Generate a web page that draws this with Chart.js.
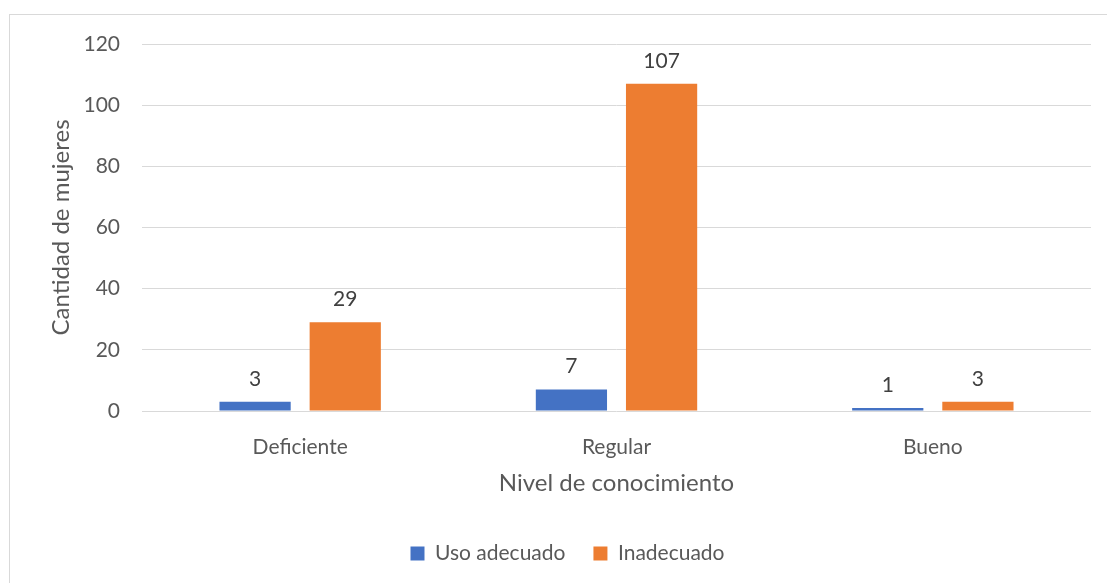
<!DOCTYPE html>
<html>
<head>
<meta charset="utf-8">
<script src="https://cdn.jsdelivr.net/npm/chart.js@4/dist/chart.umd.min.js"></script>
<style>
  html, body { margin: 0; padding: 0; background: #fff; }
  #wrap { width: 1107px; height: 583px; position: relative; }
</style>
</head>
<body>
<div id="wrap"><canvas id="chart"></canvas></div>
<script>
// chart data
const categories = ['Deficiente', 'Regular', 'Bueno'];
const usoAdecuado = [3, 7, 1];
const inadecuado = [29, 107, 3];
const yTicks = [0, 20, 40, 60, 80, 100, 120];

const FONT = 'Lato, "Open Sans", sans-serif';
const TEXT = '#595959';

// frame around the chart, like the office chart border
const framePlugin = {
    id: 'frame',
    beforeDraw(chart) {
        const ctx = chart.ctx;
        ctx.save();
        ctx.fillStyle = '#fff';
        ctx.fillRect(0, 0, chart.width, chart.height);
        ctx.strokeStyle = '#d9d9d9';
        ctx.lineWidth = 1;
        ctx.strokeRect(9.5, 14.5, chart.width + 20, chart.height + 20);
        ctx.restore();
    }
};

// value labels above each bar
const valueLabels = {
    id: 'valueLabels',
    afterDatasetsDraw(chart) {
        const ctx = chart.ctx;
        ctx.save();
        ctx.font = '21px ' + FONT;
        ctx.fillStyle = '#404040';
        ctx.textAlign = 'center';
        ctx.textBaseline = 'middle';
        chart.data.datasets.forEach((ds, i) => {
            chart.getDatasetMeta(i).data.forEach((bar, j) => {
                ctx.fillText(ds.data[j], bar.x, bar.y - 23);
            });
        });
        ctx.restore();
    }
};

new Chart(document.getElementById('chart'), {
    type: 'bar',
    data: {
        labels: categories,
        datasets: [
            {
                label: 'Uso adecuado',
                data: usoAdecuado,
                backgroundColor: '#4472C4',
                barPercentage: 0.79,
                categoryPercentage: 0.57
            },
            {
                label: 'Inadecuado',
                data: inadecuado,
                backgroundColor: '#ED7D31',
                barPercentage: 0.79,
                categoryPercentage: 0.57
            }
        ]
    },
    options: {
        responsive: true,
        maintainAspectRatio: false,
        animation: false,
        layout: { padding: { top: 44, right: 16, left: 44, bottom: 9 } },
        plugins: {
            legend: {
                position: 'bottom',
                labels: {
                    color: TEXT,
                    font: { family: FONT, size: 21 },
                    boxWidth: 14,
                    boxHeight: 14,
                    padding: 28
                }
            },
            tooltip: { enabled: false }
        },
        scales: {
            x: {
                grid: { display: false },
                border: { display: false },
                ticks: { color: TEXT, font: { family: FONT, size: 21 }, padding: 16 },
                title: {
                    display: true,
                    text: 'Nivel de conocimiento',
                    color: TEXT,
                    font: { family: FONT, size: 24 },
                    padding: { top: 6, bottom: 17 }
                },
                afterFit(scale) { scale.height = 104; }
            },
            y: {
                min: 0,
                max: 120,
                afterBuildTicks(scale) { scale.ticks = yTicks.map(v => ({ value: v })); },
                grid: { color: '#d9d9d9', lineWidth: 1, drawTicks: false },
                border: { display: false },
                ticks: { color: TEXT, font: { family: FONT, size: 21 }, padding: 22 },
                title: {
                    display: true,
                    text: 'Cantidad de mujeres',
                    color: TEXT,
                    font: { family: FONT, size: 24 },
                    padding: { top: 3, bottom: 0 }
                },
                afterFit(scale) { scale.width = 98; }
            }
        }
    },
    plugins: [framePlugin, valueLabels]
});
</script>
</body>
</html>
